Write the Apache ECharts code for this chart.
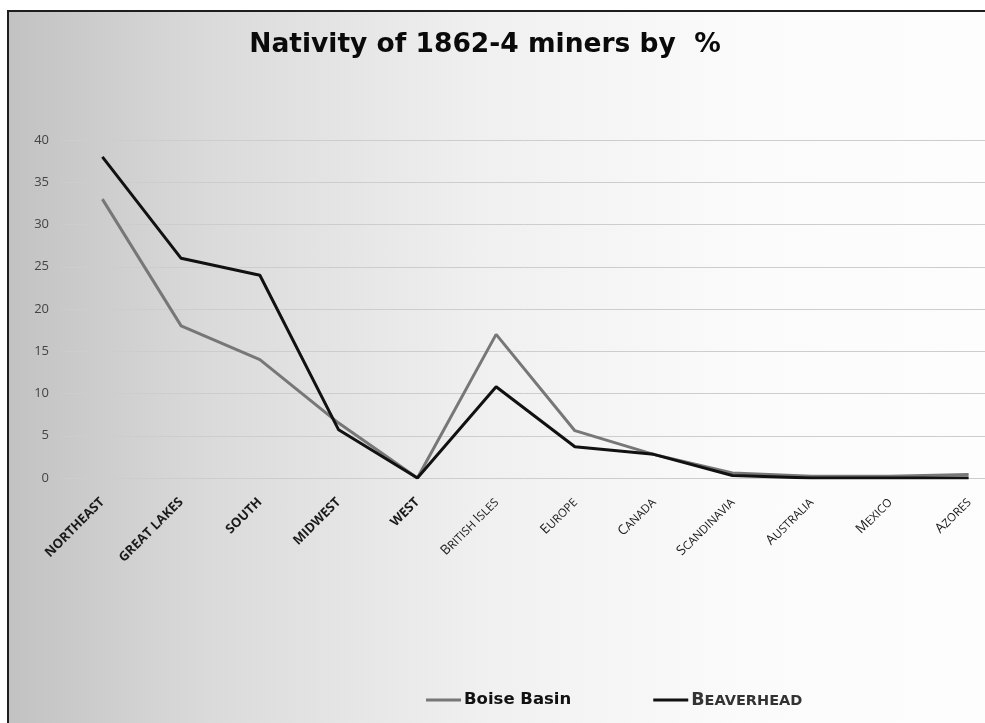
<!DOCTYPE html>
<html>
<head>
<meta charset="utf-8">
<script src="https://cdn.jsdelivr.net/npm/echarts@6/dist/echarts.min.js"></script>
<style>
  html, body { margin: 0; padding: 0; background: #ffffff; overflow: hidden; }
  #frame { position: absolute; left: 7px; top: 10px; width: 990px; height: 730px;
    border-left: 2px solid #1e1e1e; border-top: 2px solid #1e1e1e;
    background: linear-gradient(to right, #c2c2c2 0%, #dadada 20%, #f0f0f0 48%, #fbfbfb 75%, #fdfdfd 100%); }
  #chart { position: absolute; left: 0; top: 0; width: 985px; height: 723px; }
</style>
</head>
<body>
<div id="frame"></div>
<div id="chart"></div>
<script>
const categories = ['NORTHEAST', 'GREAT LAKES', 'SOUTH', 'MIDWEST', 'WEST', 'BRITISH ISLES', 'EUROPE', 'CANADA', 'SCANDINAVIA', 'AUSTRALIA', 'MEXICO', 'AZORES'];
const boiseBasin = [33, 18, 14, 6.5, 0, 17, 5.6, 2.8, 0.6, 0.2, 0.2, 0.4];
const beaverhead = [38, 26, 24, 5.7, 0, 10.8, 3.7, 2.8, 0.3, 0, 0, 0];
const yTicks = [0, 5, 10, 15, 20, 25, 30, 35, 40];

function smallCaps(text, big, small) {
  return text.split(' ').map(function (w) {
    return '{' + big + '|' + w.charAt(0) + '}' + (w.length > 1 ? '{' + small + '|' + w.slice(1) + '}' : '');
  }).join('{' + small + '| }');
}

const chart = echarts.init(document.getElementById('chart'), null, { renderer: 'canvas' });
chart.setOption({
  backgroundColor: 'transparent',
  animation: false,
  title: {
    text: 'Nativity of 1862-4 miners by  %',
    left: 480, top: 27, textAlign: 'center',
    textStyle: { fontFamily: 'DejaVu Sans, sans-serif', fontWeight: 'bold', fontSize: 26.5, color: '#0a0a0a' }
  },
  legend: {
    bottom: 9, left: 421,
    itemWidth: 35, itemHeight: 3, itemGap: 82,
    icon: 'rect',
    data: ['Boise Basin', 'Beaverhead'],
    formatter: function (name) {
      return name === 'Beaverhead' ? smallCaps('BEAVERHEAD', 'big', 'small') : '{n|' + name + '}';
    },
    textStyle: {
      padding: [0, 0, 0, -2],
      rich: {
        n: { fontFamily: 'DejaVu Sans, sans-serif', fontWeight: 'bold', fontSize: 16.5, color: '#111' },
        big: { fontFamily: 'DejaVu Sans, sans-serif', fontWeight: 'bold', fontSize: 17.5, color: '#333', verticalAlign: 'bottom' },
        small: { fontFamily: 'DejaVu Sans, sans-serif', fontWeight: 'bold', fontSize: 14.5, color: '#333', verticalAlign: 'bottom' }
      }
    }
  },
  grid: { left: 63, top: 140, width: 945, bottom: 245, outerBoundsMode: 'none', containLabel: false },
  xAxis: {
    type: 'category',
    data: categories,
    boundaryGap: true,
    axisLine: { show: false },
    axisTick: { show: false },
    axisLabel: {
      rotate: 45, margin: 22, interval: 0,
      formatter: function (v, i) { return i < 5 ? '{a|' + v + '}' : smallCaps(v, 'c', 's'); },
      rich: {
        a: { fontFamily: 'Open Sans, sans-serif', fontWeight: 'bold', fontSize: 13, color: '#1a1a1a' },
        c: { fontFamily: 'Open Sans, sans-serif', fontSize: 13.5, color: '#1a1a1a', verticalAlign: 'bottom' },
        s: { fontFamily: 'Open Sans, sans-serif', fontSize: 11.5, color: '#1a1a1a', verticalAlign: 'bottom' }
      }
    }
  },
  yAxis: {
    type: 'value', min: yTicks[0], max: yTicks[yTicks.length - 1], interval: 5,
    axisLine: { show: false }, axisTick: { show: false },
    axisLabel: { margin: 14, fontFamily: 'Open Sans, sans-serif', fontSize: 13, color: '#444' },
    splitLine: { lineStyle: { color: '#cdcdcd', width: 1 } }
  },
  series: [
    { name: 'Boise Basin', type: 'line', data: boiseBasin, showSymbol: false, symbol: 'none',
      lineStyle: { color: '#777777', width: 3 }, itemStyle: { color: '#777777' } },
    { name: 'Beaverhead', type: 'line', data: beaverhead, showSymbol: false, symbol: 'none',
      lineStyle: { color: '#111111', width: 3 }, itemStyle: { color: '#111111' } }
  ]
});
</script>
</body>
</html>
